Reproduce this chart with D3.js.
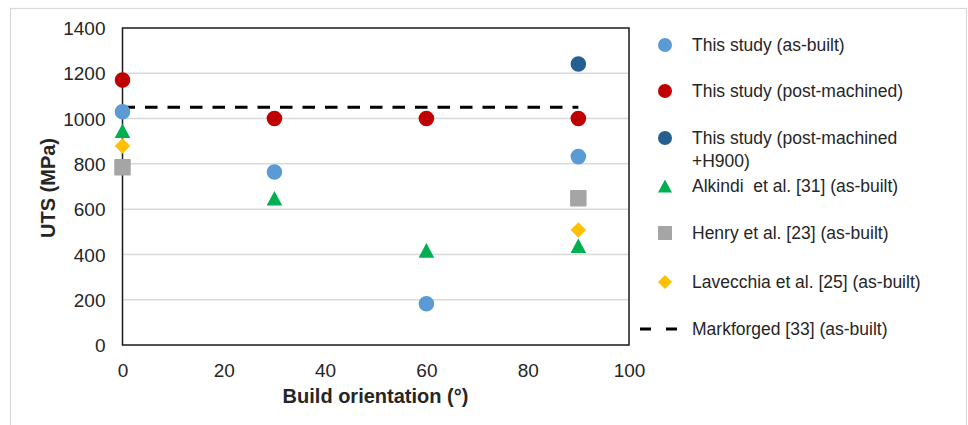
<!DOCTYPE html>
<html lang="en">
  <head>
    <meta charset="UTF-8" />
    <script src="https://d3js.org/d3.v7.min.js"></script>
    <title>UTS vs build orientation</title>
    <style>
      body { margin: 0; background: #fff; }
      svg text { font-family: "Liberation Sans", Arial, sans-serif; fill: #262626; white-space: pre; }
    </style>
  </head>
  <body>
    <div id="chart"></div>
    <script>
    // data
    var angles = [0, 30, 60, 90];
    var asBuilt = [1030, 764, 182, 832];
    var postMachined = [1170, 1000, 1000, 1000];
    var h900Angles = [90];
    var h900 = [1241];
    var alkindi = [946, 648, 418, 438];
    var henryAngles = [0, 90];
    var henry = [785, 648];
    var lavecchiaAngles = [0, 90];
    var lavecchia = [879, 508];
    var markforgedAngles = [0, 90];
    var markforged = [1050, 1050];

    var xTicks = [0, 20, 40, 60, 80, 100];
    var yTicks = [0, 200, 400, 600, 800, 1000, 1200, 1400];

    var series = [
      { name: "This study (as-built)", xs: angles, ys: asBuilt, shape: "circle", color: "#5B9BD5" },
      { name: "This study (post-machined)", xs: angles, ys: postMachined, shape: "circle", color: "#C00000" },
      { name: ["This study (post-machined", "+H900)"], xs: h900Angles, ys: h900, shape: "circle", color: "#255E91" },
      { name: "Alkindi  et al. [31] (as-built)", xs: angles, ys: alkindi, shape: "triangle", color: "#00B050" },
      { name: "Henry et al. [23] (as-built)", xs: henryAngles, ys: henry, shape: "square", color: "#A5A5A5" },
      { name: "Lavecchia et al. [25] (as-built)", xs: lavecchiaAngles, ys: lavecchia, shape: "diamond", color: "#FFC000" }
    ];

    var W = 968, H = 425;
    var plot = { left: 122.5, right: 629, top: 28, bottom: 345 };

    var svg = d3.select("#chart").append("svg")
      .attr("width", W)
      .attr("height", H);

    // outer chart border
    svg.append("rect")
      .attr("x", 10.5).attr("y", 8.5)
      .attr("width", 956).attr("height", 430)
      .attr("fill", "none")
      .attr("stroke", "#D9D9D9")
      .attr("stroke-width", 1.2);

    var x = d3.scaleLinear().domain([0, 100]).range([plot.left, plot.right]);
    var y = d3.scaleLinear().domain([0, 1400]).range([plot.bottom, plot.top]);

    // gridlines
    svg.append("g")
      .selectAll("line")
      .data(yTicks.slice(1, -1))
      .enter().append("line")
        .attr("x1", plot.left).attr("x2", plot.right)
        .attr("y1", function(d) { return y(d); })
        .attr("y2", function(d) { return y(d); })
        .attr("stroke", "#D9D9D9")
        .attr("stroke-width", 1.5);

    // plot frame
    svg.append("rect")
      .attr("x", plot.left).attr("y", plot.top)
      .attr("width", plot.right - plot.left)
      .attr("height", plot.bottom - plot.top)
      .attr("fill", "none")
      .attr("stroke", "#1a1a1a")
      .attr("stroke-width", 1.5);

    // axes (labels only, Excel style)
    var yAxis = svg.append("g")
      .attr("transform", "translate(" + (plot.left - 17) + ",0)")
      .call(d3.axisLeft(y).tickValues(yTicks).tickFormat(d3.format("d")).tickSize(0).tickPadding(0));
    yAxis.select(".domain").remove();
    yAxis.selectAll("text").style("font-size", "19px").attr("dy", "0.35em");

    var xAxis = svg.append("g")
      .attr("transform", "translate(0," + (plot.bottom + 14) + ")")
      .call(d3.axisBottom(x).tickValues(xTicks).tickFormat(d3.format("d")).tickSize(0).tickPadding(0));
    xAxis.select(".domain").remove();
    xAxis.selectAll("text").style("font-size", "19px").attr("dy", "0.95em");

    // axis titles
    svg.append("text")
      .attr("x", 375.5).attr("y", 403)
      .attr("text-anchor", "middle")
      .style("font-size", "20px").style("font-weight", "bold")
      .text("Build orientation (°)");
    svg.append("text")
      .attr("transform", "translate(55,188) rotate(-90)")
      .attr("text-anchor", "middle")
      .style("font-size", "20px").style("font-weight", "bold")
      .text("UTS (MPa)");

    // marker shapes
    function shapePath(shape, s) {
      var h = s / 2;
      if (shape === "circle") return d3.symbol().type(d3.symbolCircle).size(Math.PI * h * h)();
      if (shape === "square") return "M" + -h + "," + -h + "H" + h + "V" + h + "H" + -h + "Z";
      if (shape === "diamond") return "M0," + -h + "L" + h + ",0L0," + h + "L" + -h + ",0Z";
      // triangle
      return "M0," + (-h + 0.5) + "L" + h + "," + (h - 0.5) + "L" + -h + "," + (h - 0.5) + "Z";
    }
    var markerSize = { circle: 15.6, triangle: 15.6, square: 15, diamond: 15.4 };

    // Markforged reference line
    svg.append("path")
      .datum(markforgedAngles.map(function(a, i) { return [a, markforged[i]]; }))
      .attr("fill", "none")
      .attr("stroke", "#000")
      .attr("stroke-width", 3)
      .attr("stroke-dasharray", "12.5,10")
      .attr("d", d3.line()
        .x(function(d) { return x(d[0]); })
        .y(function(d) { return y(d[1]); }));

    // scatter markers
    series.forEach(function(s) {
      svg.append("g")
        .selectAll("path")
        .data(s.xs.map(function(a, i) { return [a, s.ys[i]]; }))
        .enter().append("path")
          .attr("transform", function(d) { return "translate(" + x(d[0]) + "," + y(d[1]) + ")"; })
          .attr("d", shapePath(s.shape, markerSize[s.shape]))
          .attr("fill", s.color)
          .attr("stroke", s.shape === "square" ? s.color : "none")
          .attr("stroke-linejoin", "round")
          .attr("stroke-width", s.shape === "square" ? 1.5 : 0);
    });

    // legend
    var legendRows = [45, 91, 138, 186, 233, 282];
    var legend = svg.append("g");
    series.forEach(function(s, i) {
      legend.append("path")
        .attr("transform", "translate(665," + legendRows[i] + ")")
        .attr("d", shapePath(s.shape, 14))
        .attr("fill", s.color);
      var lines = Array.isArray(s.name) ? s.name : [s.name];
      var t = legend.append("text")
        .attr("x", 692)
        .attr("y", legendRows[i])
        .style("font-size", "17.5px");
      lines.forEach(function(l, j) {
        t.append("tspan").attr("x", 692).attr("dy", j === 0 ? "0.35em" : "1.3em").text(l);
      });
    });
    legend.append("line")
      .attr("x1", 640).attr("x2", 677)
      .attr("y1", 329).attr("y2", 329)
      .attr("stroke", "#000")
      .attr("stroke-width", 3)
      .attr("stroke-dasharray", "11,15");
    legend.append("text")
      .attr("x", 692).attr("y", 329)
      .attr("dy", "0.35em")
      .style("font-size", "17.5px")
      .text("Markforged [33] (as-built)");
    </script>
  </body>
</html>
